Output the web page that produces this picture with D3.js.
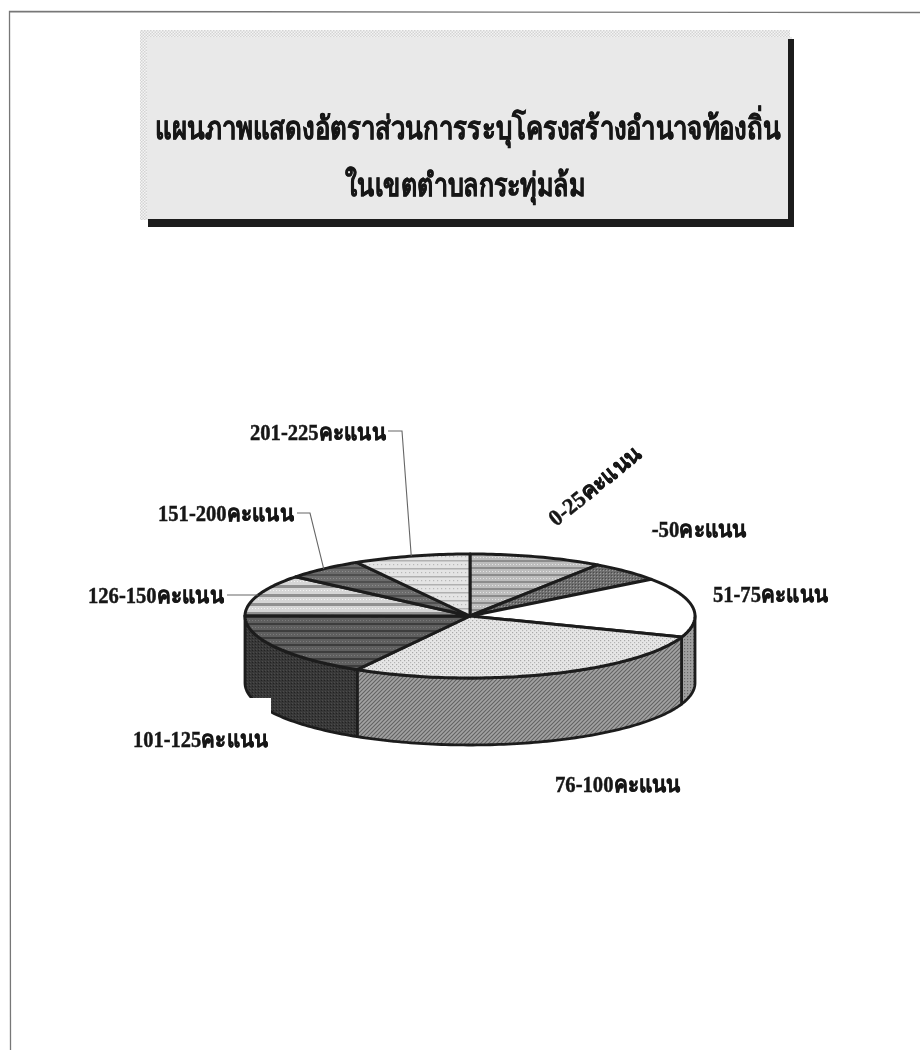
<!DOCTYPE html>
<html>
<head>
<meta charset="utf-8">
<script src="https://cdn.jsdelivr.net/npm/d3@7"></script>
<style>
  html, body { margin: 0; padding: 0; background: #fff; }
  svg { display: block; }
  text { font-family: "Liberation Serif", "Noto Sans", serif; font-weight: bold; fill: #161616; stroke: #161616; stroke-width: 0.45px; }
</style>
</head>
<body>
<svg id="chart" width="920" height="1050"></svg>
<script>
/* share per score band (%) */
const categories = ["0-25คะแนน", "26-50คะแนน", "51-75คะแนน", "76-100คะแนน",
  "101-125คะแนน", "126-150คะแนน", "151-200คะแนน", "201-225คะแนน"];
const shares = [9.6, 5.3, 15.6, 27.8, 16.7, 10.8, 5.7, 8.4];
const titleLines = ["แผนภาพแสดงอัตราส่วนการระบุโครงสร้างอำนาจท้องถิ่น", "ในเขตตำบลกระทุ่มล้ม"];

/* label placement, same order as categories: [x, y, width, rotation] */
const labelLayout = [
  [556, 527, 112, -39], [631, 537, 115, 0], [713, 602, 114, 0], [555, 792, 125, 0],
  [133, 747, 134, 0], [88, 603, 135, 0], [158, 521, 135, 0], [250, 440, 135, 0]
];
/* leader lines: start of the line next to the label, null where there is none */
const leaders = [null, null, null, null, null,
  [[227, 595]], [[297, 513], [310, 513]], [[388, 431], [402, 431]]];

/* top and side fills per slice */
const topFills = ["stripeMid", "stippleDark", "white", "dotLight", "stripeDark", "stripeLight", "stripeDim", "dotStripe"];
const sideFills = [null, null, "dotSide", "hatch", "sideDark", null, null, null];

const cx = 470, cy = 616, rx = 225, ry = 62, depth = 67;
const ink = "#1e1e1e";

const svg = d3.select("#chart");
const defs = svg.append("defs");

function addPattern(id, w, h, bg, draw) {
  const p = defs.append("pattern").attr("id", id).attr("patternUnits", "userSpaceOnUse")
    .attr("width", w).attr("height", h);
  p.append("rect").attr("width", w).attr("height", h).attr("fill", bg);
  draw(p);
}
const hLine = (p, y, h, c) => p.append("rect").attr("x", 0).attr("y", y).attr("width", 40).attr("height", h).attr("fill", c);
const dot = (p, x, y, s, c) => p.append("rect").attr("x", x).attr("y", y).attr("width", s).attr("height", s).attr("fill", c);

addPattern("stripeMid", 3, 7, "#bdbdbd", p => { hLine(p, 0, 2, "#8c8c8c"); dot(p, 0, 4, 1, "#e2e2e2"); });
addPattern("stippleDark", 3, 3, "#6e6e6e", p => { dot(p, 0, 0, 1, "#9a9a9a"); dot(p, 2, 2, 1, "#4c4c4c"); });
addPattern("dotLight", 4, 4, "#e6e6e6", p => { dot(p, 0, 0, 1.2, "#a8a8a8"); dot(p, 2, 2, 1.2, "#b4b4b4"); });
addPattern("stripeDark", 3, 7, "#5e5e5e", p => { hLine(p, 0, 2, "#3e3e3e"); dot(p, 0, 4, 1, "#7a7a7a"); });
addPattern("stripeLight", 3, 9, "#d6d6d6", p => { hLine(p, 0, 3, "#909090"); dot(p, 0, 5, 1, "#f2f2f2"); });
addPattern("stripeDim", 3, 7, "#6c6c6c", p => { hLine(p, 0, 2, "#505050"); dot(p, 0, 4, 1, "#8c8c8c"); });
addPattern("dotStripe", 4, 8, "#e4e4e4", p => { hLine(p, 0, 1.5, "#b0b0b0"); dot(p, 1, 4, 1.2, "#b8b8b8"); });
addPattern("dotSide", 3, 3, "#a0a0a0", p => { dot(p, 0, 0, 1.2, "#6a6a6a"); });
addPattern("hatch", 4, 4, "#a2a2a2", p => {
  p.append("path").attr("d", "M-1,1L1,-1M0,4L4,0M3,5L5,3").attr("stroke", "#626262").attr("stroke-width", 1.1);
});
addPattern("sideDark", 3, 3, "#383838", p => { dot(p, 1, 1, 1, "#4c4c4c"); dot(p, 0, 2, 1, "#242424"); });
addPattern("dither", 3, 3, "#f4f4f4", p => { dot(p, 0, 0, 1.5, "#d4d4d4"); dot(p, 1.5, 1.5, 1.5, "#d4d4d4"); });

defs.append("filter").attr("id", "scan")
  .attr("filterUnits", "userSpaceOnUse").attr("x", 0).attr("y", 0).attr("width", 920).attr("height", 1050)
  .append("feGaussianBlur").attr("stdDeviation", 0.5);

/* squeeze a text horizontally to the width it has in the picture */
function fitText(sel, x, y, w, r) {
  const natural = sel.node().getComputedTextLength();
  sel.attr("transform", `translate(${x},${y}) rotate(${r}) scale(${w / natural},1)`);
}

/* scanned page edge */
const frame = svg.append("g").attr("fill", "none").attr("stroke", "#777").attr("stroke-width", 1.3);
frame.append("path").attr("d", "M920,12.5L9.5,11.5L10.5,1050");

/* title panel */
const panel = svg.append("g").attr("filter", "url(#scan)");
panel.append("rect").attr("x", 140).attr("y", 30).attr("width", 650).attr("height", 190).attr("fill", "url(#dither)");
panel.append("rect").attr("x", 147).attr("y", 37).attr("width", 645).attr("height", 183).attr("fill", "#e9e9e9");
panel.append("rect").attr("x", 788).attr("y", 39).attr("width", 6).attr("height", 188).attr("fill", ink);
panel.append("rect").attr("x", 148).attr("y", 219).attr("width", 646).attr("height", 8).attr("fill", ink);

panel.append("text").style("font-size", "32px").text(titleLines[0])
  .call(fitText, 155, 139, 627, 0);
panel.append("text").style("font-size", "32px").text(titleLines[1])
  .call(fitText, 345, 196, 240, 0);

/* pie */
const pie = d3.pie().sort(null).value(d => d)(shares);
const px = a => cx + rx * Math.sin(a);
const py = a => cy - ry * Math.cos(a);
const line = d3.line();
const arcSamples = (a0, a1) => {
  const n = Math.max(2, Math.ceil((a1 - a0) / 0.02));
  return d3.range(n + 1).map(i => a0 + (a1 - a0) * i / n);
};

const pieG = svg.append("g").attr("filter", "url(#scan)")
  .attr("stroke", ink).attr("stroke-linejoin", "round");

/* side wall: only the front half of the ellipse shows */
pie.forEach((s, i) => {
  if (!sideFills[i]) return;
  const a0 = Math.max(s.startAngle, Math.PI / 2);
  const a1 = Math.min(s.endAngle, 3 * Math.PI / 2);
  const angles = arcSamples(a0, a1);
  const upper = angles.map(a => [px(a), py(a)]);
  const lower = angles.slice().reverse().map(a => [px(a), py(a) + depth]);
  pieG.append("path")
    .attr("d", line(upper.concat(lower)) + "Z")
    .attr("fill", `url(#${sideFills[i]})`)
    .attr("stroke-width", 2.8);
});

pie.forEach((s, i) => {
  const pts = arcSamples(s.startAngle, s.endAngle).map(a => [px(a), py(a)]);
  pieG.append("path")
    .attr("d", line([[cx, cy]].concat(pts)) + "Z")
    .attr("fill", topFills[i] === "white" ? "#fff" : `url(#${topFills[i]})`)
    .attr("stroke-width", 3);
});

/* the scan lost a corner of the wall at lower left */
svg.append("rect").attr("x", 238).attr("y", 698).attr("width", 33).attr("height", 36).attr("fill", "#fff");

/* leaders end at the middle of the slice rim */
const leaderG = svg.append("g").attr("fill", "none").attr("stroke", "#666").attr("stroke-width", 1.1);
pie.forEach((s, i) => {
  if (!leaders[i]) return;
  const mid = (s.startAngle + s.endAngle) / 2;
  leaderG.append("path").attr("d", line(leaders[i].concat([[px(mid), py(mid)]])));
});

/* labels; the left of the 26-50 label is missing in the scan */
defs.append("clipPath").attr("id", "cut26").append("rect")
  .attr("x", 651).attr("y", 500).attr("width", 120).attr("height", 60);

const labelG = svg.append("g").attr("filter", "url(#scan)");
categories.forEach((c, i) => {
  const [x, y, w, r] = labelLayout[i];
  const holder = i === 1 ? labelG.append("g").attr("clip-path", "url(#cut26)") : labelG;
  holder.append("text").style("font-size", "23px").text(c)
    .call(fitText, x, y, w, r);
});
</script>
</body>
</html>
